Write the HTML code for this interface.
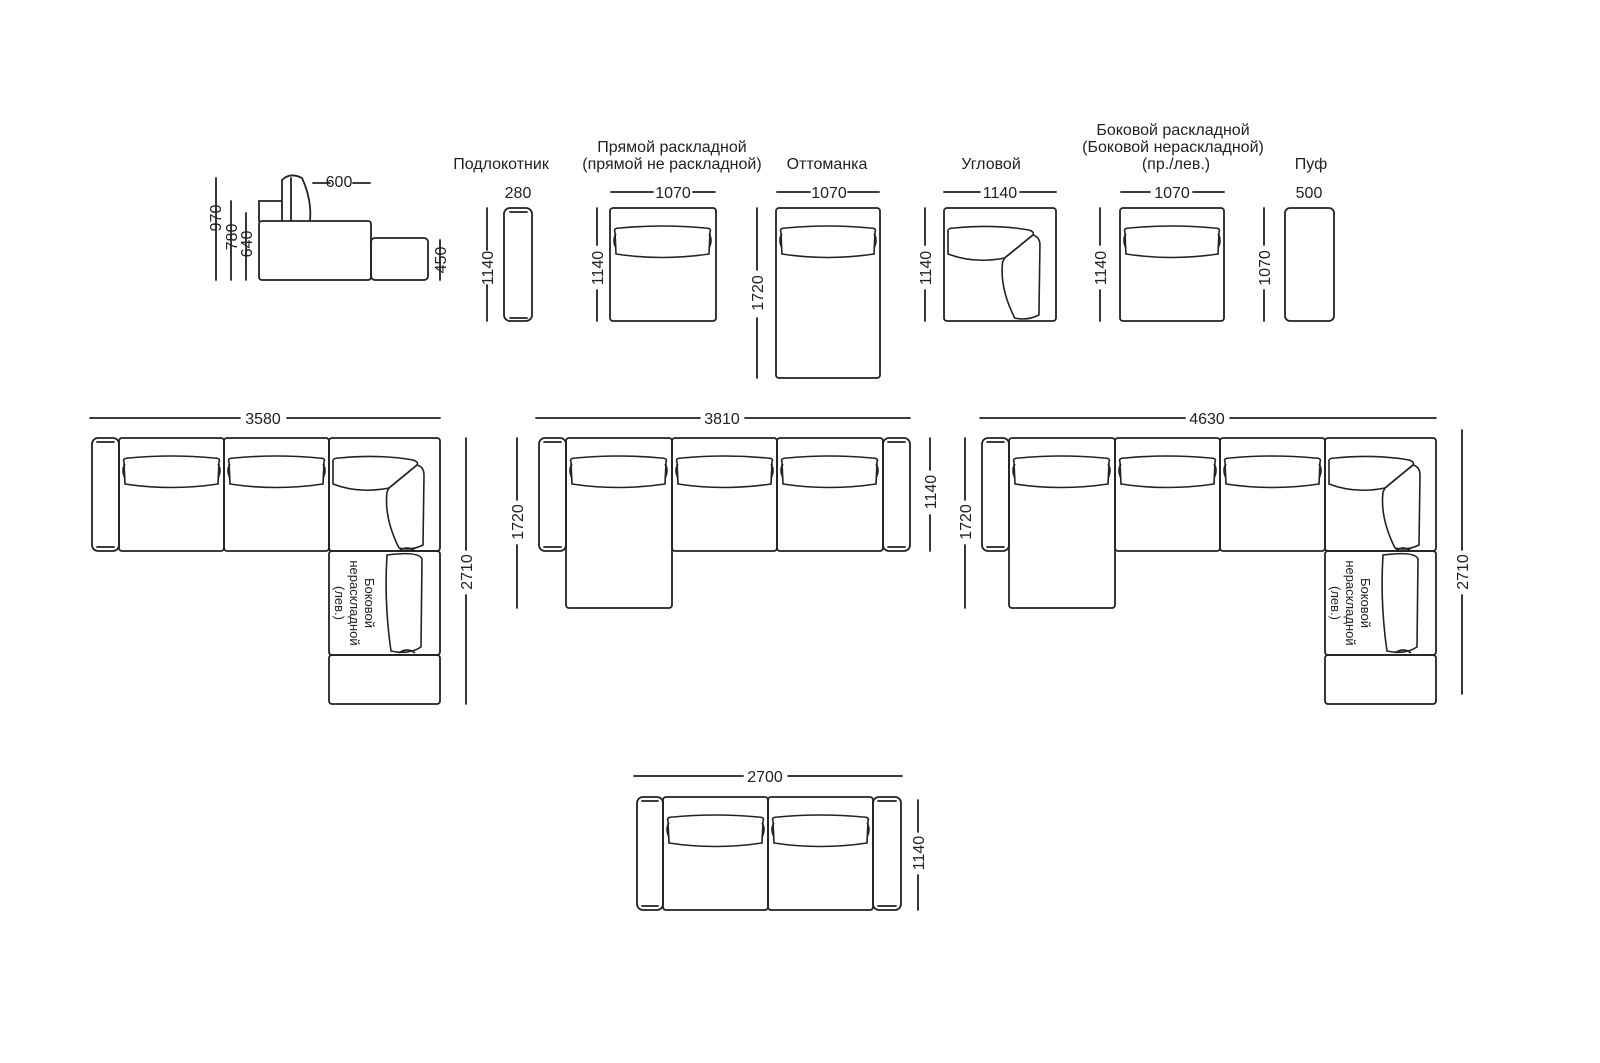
<!DOCTYPE html>
<html><head><meta charset="utf-8"><style>
html,body{margin:0;padding:0;background:#fff}
svg{display:block}
text{font-family:"Liberation Sans",sans-serif;fill:#222}
</style></head><body>
<svg width="1600" height="1063" viewBox="0 0 1600 1063" xmlns="http://www.w3.org/2000/svg">
<defs>
<g id="cu" fill="none" stroke="#222" stroke-width="1.6">
<path vector-effect="non-scaling-stroke" d="M5,24 Q3,20 10,20 Q52,16 95,20 Q102,20 100,24 L99,46 Q52,53 6,46 Z"/>
<path vector-effect="non-scaling-stroke" d="M6,26 Q2,32 6,40 M99,26 Q103,32 99,40"/>
</g>
<g id="co" fill="none" stroke="#222" stroke-width="1.6">
<path vector-effect="non-scaling-stroke" d="M4,24 Q3,20 10,20 Q50,16 84,22 Q90,24 88,27 L60,50 Q30,56 4,46 Z"/>
<path vector-effect="non-scaling-stroke" d="M88,27 Q95,29 95,37 L94,107 Q82,113 70,110 Q55,80 58,54 L60,50 Z"/>
</g>
<g id="sd" fill="none" stroke="#222" stroke-width="1.6">
<path vector-effect="non-scaling-stroke" d="M58,4 Q90,0 93,8 L92,96 Q80,104 62,100 Q55,52 58,4 Z"/>
<path vector-effect="non-scaling-stroke" d="M70,0 Q78,-6 86,0 M70,102 Q78,96 86,102"/>
</g>
</defs>
<g fill="none" stroke="#222" stroke-width="1.8" stroke-linecap="round">
<path d="M216,178V280M231,201V280M246,213V280"/>
<rect x="259" y="221" width="112" height="59" rx="3"/>
<path d="M259,221V201H282 M282,221V180Q290,172 302,178Q312,200 310,221 M291,178V221"/>
<rect x="371" y="238" width="57" height="42" rx="4"/>
<path d="M440,240V280 M313,183H330 M353,183H370"/>
<rect x="504" y="208" width="28" height="113" rx="6"/>
<path d="M510,212H527M510,318H527M487,208V250M487,285V321"/>
<rect x="610" y="208" width="106" height="113" rx="3"/>
<path d="M611,192H653M693,192H715M597,208V245M597,290V321"/>
<rect x="776" y="208" width="104" height="170" rx="3"/>
<path d="M777,192H810M848,192H879M757,208V270M757,318V378"/>
<rect x="944" y="208" width="112" height="113" rx="3"/>
<path d="M944,192H980M1020,192H1056M925,208V245M925,290V321"/>
<rect x="1120" y="208" width="104" height="113" rx="3"/>
<path d="M1121,192H1150M1193,192H1224M1100,208V245M1100,290V321"/>
<rect x="1285" y="208" width="49" height="113" rx="5"/>
<path d="M1264,208V245M1264,290V321"/>

<path d="M90,418H240M287,418H440M466,438V550M466,595V704"/>
<rect x="92" y="438" width="27" height="113" rx="6"/>
<rect x="119" y="438" width="105" height="113" rx="3"/>
<rect x="224" y="438" width="105" height="113" rx="3"/>
<rect x="329" y="438" width="111" height="113" rx="3"/>
<rect x="329" y="551" width="111" height="104" rx="3"/>
<rect x="329" y="655" width="111" height="49" rx="3"/>
<path d="M536,418H700M745,418H910M517,438V500M517,545V608M930,438V470M930,515V551"/>
<rect x="539" y="438" width="27" height="113" rx="6"/>
<rect x="566" y="438" width="106" height="170" rx="3"/>
<rect x="672" y="438" width="105" height="113" rx="3"/>
<rect x="777" y="438" width="106" height="113" rx="3"/>
<rect x="883" y="438" width="27" height="113" rx="6"/>
<path d="M980,418H1185M1230,418H1436M965,438V500M965,545V608M1462,430V550M1462,595V694"/>
<rect x="982" y="438" width="27" height="113" rx="6"/>
<rect x="1009" y="438" width="106" height="170" rx="3"/>
<rect x="1115" y="438" width="105" height="113" rx="3"/>
<rect x="1220" y="438" width="105" height="113" rx="3"/>
<rect x="1325" y="438" width="111" height="113" rx="3"/>
<rect x="1325" y="551" width="111" height="104" rx="3"/>
<rect x="1325" y="655" width="111" height="49" rx="3"/>
<path d="M634,776H743M788,776H902M918,800V832M918,875V910"/>
<rect x="637" y="797" width="26" height="113" rx="6"/>
<rect x="663" y="797" width="105" height="113" rx="3"/>
<rect x="768" y="797" width="105" height="113" rx="3"/>
<rect x="873" y="797" width="28" height="113" rx="6"/>
<path d="M97,442H114M97,547H114M544,442H561M544,547H561M888,442H905M888,547H905M987,442H1004M987,547H1004M642,801H658M642,906H658M878,801H896M878,906H896"/>
</g>
<use href="#cu" x="610" y="208"/>
<use href="#cu" transform="translate(776,208) scale(0.99,1)"/>
<use href="#cu" transform="translate(1120,208) scale(0.99,1)"/>
<use href="#co" transform="translate(944,208) scale(1.01,1)"/>
<use href="#cu" x="119" y="438"/><use href="#cu" x="224" y="438"/><use href="#co" x="329" y="438"/><use href="#sd" x="329" y="551"/>
<use href="#cu" x="566" y="438"/><use href="#cu" x="672" y="438"/><use href="#cu" x="777" y="438"/>
<use href="#cu" x="1009" y="438"/><use href="#cu" x="1115" y="438"/><use href="#cu" x="1220" y="438"/><use href="#co" x="1325" y="438"/><use href="#sd" x="1325" y="551"/>
<use href="#cu" x="663" y="797"/><use href="#cu" x="768" y="797"/>

<g font-size="16" text-anchor="middle">
<text x="501" y="169">Подлокотник</text>
<text x="672" y="152">Прямой раскладной</text>
<text x="672" y="169">(прямой не раскладной)</text>
<text x="827" y="169">Оттоманка</text>
<text x="991" y="169">Угловой</text>
<text x="1173" y="135">Боковой раскладной</text>
<text x="1173" y="152">(Боковой нераскладной)</text>
<text x="1176" y="169">(пр./лев.)</text>
<text x="1311" y="169">Пуф</text>
<text x="339" y="187">600</text>
<text x="518" y="198">280</text>
<text x="673" y="198">1070</text>
<text x="829" y="198">1070</text>
<text x="1000" y="198">1140</text>
<text x="1172" y="198">1070</text>
<text x="1309" y="198">500</text>
<text x="263" y="424">3580</text>
<text x="722" y="424">3810</text>
<text x="1207" y="424">4630</text>
<text x="765" y="782">2700</text>
<g transform="rotate(-90)">
<text x="-218" y="221">970</text>
<text x="-237" y="237">780</text>
<text x="-244" y="252">640</text>
<text x="-260" y="446">450</text>
<text x="-268" y="493">1140</text>
<text x="-268" y="603">1140</text>
<text x="-293" y="763">1720</text>
<text x="-268" y="931">1140</text>
<text x="-268" y="1106">1140</text>
<text x="-268" y="1270">1070</text>
<text x="-522" y="523">1720</text>
<text x="-492" y="936">1140</text>
<text x="-522" y="971">1720</text>
<text x="-572" y="472">2710</text>
<text x="-572" y="1468">2710</text>
<text x="-853" y="924">1140</text>
</g>
<g font-size="13" transform="rotate(90)">
<text x="603" y="-365">Боковой</text>
<text x="603" y="-350">нераскладной</text>
<text x="603" y="-335">(лев.)</text>
<text x="603" y="-1361">Боковой</text>
<text x="603" y="-1346">нераскладной</text>
<text x="603" y="-1331">(лев.)</text>
</g>
</g>
</svg>
</body></html>
